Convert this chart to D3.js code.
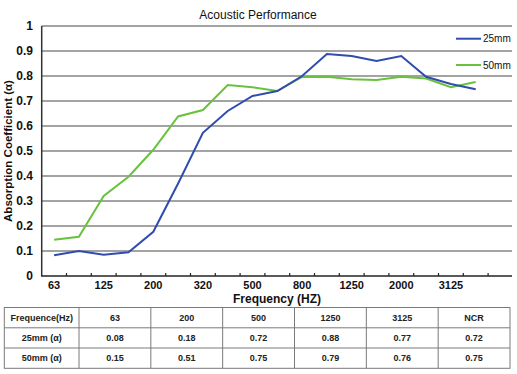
<!DOCTYPE html>
<html>
<head>
<meta charset="utf-8">
<script src="https://cdn.jsdelivr.net/npm/d3@7"></script>
<style>
  body { margin: 0; background: #fff; }
  svg { display: block; font-family: "Liberation Sans", Arial, sans-serif; }
</style>
</head>
<body>
<div id="chart"></div>
<script>
var width = 517;
var height = 374;

// frequency bands (only some are labelled on the axis)
var bands = ["63", "90", "125", "160", "200", "250", "320", "400", "500", "630",
             "800", "1000", "1250", "1600", "2000", "2500", "3125", "4000", "5000"];
var tickLabels = ["63", "125", "200", "320", "500", "800", "1250", "2000", "3125"];

var series25 = [0.083, 0.10, 0.085, 0.095, 0.177, 0.37, 0.573, 0.66, 0.72, 0.74,
                0.80, 0.888, 0.88, 0.86, 0.88, 0.797, 0.768, 0.747];
var series50 = [0.145, 0.157, 0.32, 0.397, 0.505, 0.638, 0.664, 0.764, 0.755, 0.74,
                0.796, 0.797, 0.787, 0.784, 0.797, 0.79, 0.755, 0.776];
var yTicks = [0, 0.1, 0.2, 0.3, 0.4, 0.5, 0.6, 0.7, 0.8, 0.9, 1];

// table under the chart
var tableHeader = ["Frequence(Hz)", "63", "200", "500", "1250", "3125", "NCR"];
var table25 = ["25mm (α)", "0.08", "0.18", "0.72", "0.88", "0.77", "0.72"];
var table50 = ["50mm (α)", "0.15", "0.51", "0.75", "0.79", "0.76", "0.75"];

var blue = "#2f4cae";
var green = "#68c23b";

var svg = d3.select("#chart").append("svg")
  .attr("width", width)
  .attr("height", height);

var x = d3.scaleBand().domain(bands).range([41.7, 512.9]);
var y = d3.scaleLinear().domain([0, 1]).range([276, 26]);

// grid
svg.append("g")
  .selectAll("line")
  .data(yTicks.slice(1))
  .join("line")
    .attr("x1", 41.7)
    .attr("x2", 512)
    .attr("y1", d => y(d))
    .attr("y2", d => y(d))
    .attr("stroke", "#858585")
    .attr("stroke-width", 1.5);

// y labels
svg.append("g")
  .selectAll("text")
  .data(yTicks)
  .join("text")
    .attr("x", 33)
    .attr("y", d => y(d))
    .attr("dy", "0.36em")
    .attr("text-anchor", "end")
    .attr("font-size", 12)
    .attr("font-weight", "bold")
    .attr("fill", "#111")
    .text(d => d === 0 || d === 1 ? d : d.toFixed(1));

// axes lines
svg.append("line")
  .attr("x1", 41.7).attr("x2", 41.7)
  .attr("y1", y(1)).attr("y2", y(0))
  .attr("stroke", "#333").attr("stroke-width", 1.5);
svg.append("line")
  .attr("x1", 41).attr("x2", 512)
  .attr("y1", y(0)).attr("y2", y(0))
  .attr("stroke", "#222").attr("stroke-width", 1.5);

// tick marks at band boundaries
svg.append("g")
  .selectAll("line")
  .data(bands.slice(1))
  .join("line")
    .attr("x1", d => x(d))
    .attr("x2", d => x(d))
    .attr("y1", y(0))
    .attr("y2", y(0) - 3)
    .attr("stroke", "#222")
    .attr("stroke-width", 1.2);

svg.append("g")
  .selectAll("text")
  .data(tickLabels)
  .join("text")
    .attr("x", d => x(d) + x.bandwidth() / 2)
    .attr("y", 289)
    .attr("text-anchor", "middle")
    .attr("font-size", 11)
    .attr("font-weight", "bold")
    .attr("fill", "#111")
    .text(d => d);

// titles
svg.append("text")
  .attr("x", 258).attr("y", 19)
  .attr("text-anchor", "middle")
  .attr("font-size", 12)
  .attr("fill", "#111")
  .text("Acoustic Performance");

svg.append("text")
  .attr("x", 277).attr("y", 303)
  .attr("text-anchor", "middle")
  .attr("font-size", 12)
  .attr("font-weight", "bold")
  .attr("fill", "#111")
  .text("Frequency (HZ)");

svg.append("text")
  .attr("transform", "translate(12,151) rotate(-90)")
  .attr("text-anchor", "middle")
  .attr("font-size", 11.5)
  .attr("font-weight", "bold")
  .attr("fill", "#111")
  .text("Absorption Coefficient (α)");

// lines
var line = d3.line()
  .x((d, i) => x(bands[i]) + x.bandwidth() / 2)
  .y(d => y(d));

svg.append("path")
  .datum(series50)
  .attr("d", line)
  .attr("fill", "none")
  .attr("stroke", green)
  .attr("stroke-width", 2);

svg.append("path")
  .datum(series25)
  .attr("d", line)
  .attr("fill", "none")
  .attr("stroke", blue)
  .attr("stroke-width", 2);

// legend
var legend = svg.append("g");
[["25mm", blue, 38.7], ["50mm", green, 65]].forEach(function(l) {
  legend.append("line")
    .attr("x1", 456).attr("x2", 481)
    .attr("y1", l[2]).attr("y2", l[2])
    .attr("stroke", l[1]).attr("stroke-width", 2);
  legend.append("text")
    .attr("x", 483).attr("y", l[2])
    .attr("dy", "0.35em")
    .attr("font-size", 10)
    .attr("fill", "#111")
    .text(l[0]);
});

// table
var rows = [tableHeader, table25, table50];
var colEdges = [4.3, 79];
var colW = (510 - 79) / 6;
for (var i = 1; i <= 6; i++) colEdges.push(79 + colW * i);
var rowEdges = [307.5, 327.8, 348, 368.3];

var tbl = svg.append("g");
tbl.append("rect")
  .attr("x", colEdges[0]).attr("y", rowEdges[0])
  .attr("width", colEdges[7] - colEdges[0])
  .attr("height", rowEdges[3] - rowEdges[0])
  .attr("fill", "none")
  .attr("stroke", "#7a7a7a");
tbl.selectAll("line.v")
  .data(colEdges.slice(1, 7))
  .join("line")
    .attr("class", "v")
    .attr("x1", d => d).attr("x2", d => d)
    .attr("y1", rowEdges[0]).attr("y2", rowEdges[3])
    .attr("stroke", "#7a7a7a");
tbl.selectAll("line.h")
  .data(rowEdges.slice(1, 3))
  .join("line")
    .attr("class", "h")
    .attr("x1", colEdges[0]).attr("x2", colEdges[7])
    .attr("y1", d => d).attr("y2", d => d)
    .attr("stroke", "#7a7a7a");

rows.forEach(function(r, ri) {
  tbl.append("g")
    .selectAll("text")
    .data(r)
    .join("text")
      .attr("x", (d, ci) => (colEdges[ci] + colEdges[ci + 1]) / 2)
      .attr("y", (rowEdges[ri] + rowEdges[ri + 1]) / 2)
      .attr("dy", "0.36em")
      .attr("text-anchor", "middle")
      .attr("font-size", 9)
      .attr("font-weight", "bold")
      .attr("fill", "#222")
      .text(d => d);
});
</script>
</body>
</html>
